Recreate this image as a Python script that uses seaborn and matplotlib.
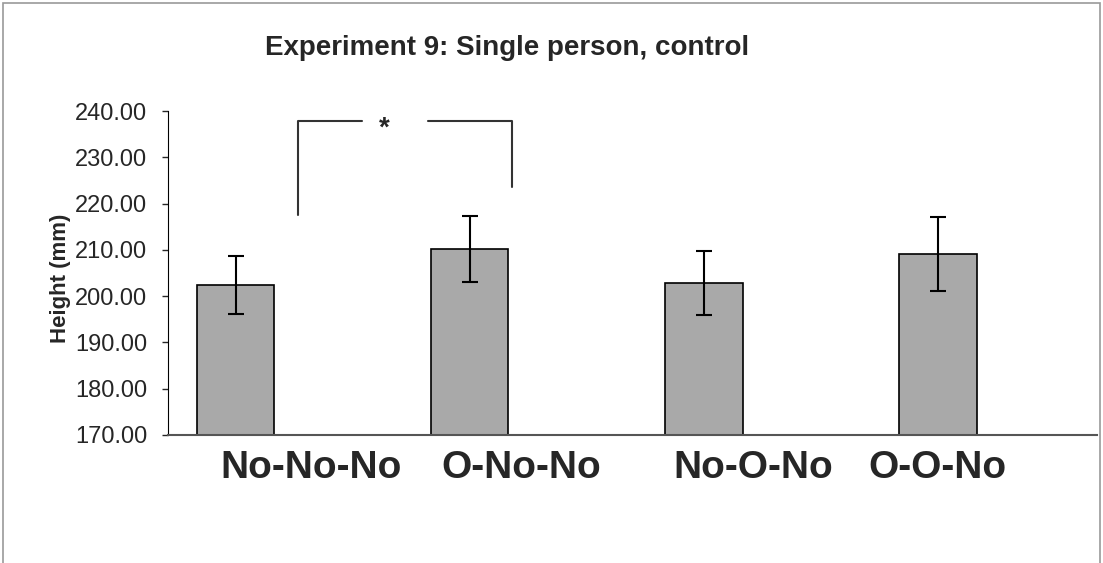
import numpy as np
import pandas as pd
import matplotlib
matplotlib.use("Agg")
import matplotlib.pyplot as plt
import matplotlib.transforms as mtransforms
from matplotlib.patches import Rectangle
import seaborn as sns

conditions = ["No-No-No", "O-No-No", "No-O-No", "O-O-No"]
heights = [202.4, 210.2, 202.8, 209.1]
errors = [6.2, 7.1, 6.9, 8.0]
# label centres sit a little to the right of the bars in the original
label_offsets = [0.32, 0.22, 0.21, 0.0]

sns.set_style("white")
plt.rcParams["font.family"] = ["Liberation Sans", "DejaVu Sans"]

df = pd.DataFrame({"condition": conditions, "height": heights})

fig = plt.figure(figsize=(11.03, 5.63), dpi=100)
ax = fig.add_axes([0.1523, 0.2274, 0.8423, 0.5754])

sns.barplot(data=df, x="condition", y="height", color="#a9a9a9",
            edgecolor="black", linewidth=1.2, width=0.33, errorbar=None,
            saturation=1, ax=ax)
ax.errorbar(np.arange(len(conditions)), heights, yerr=errors, fmt="none",
            ecolor="black", elinewidth=1.5, capsize=6, capthick=1.5)

ax.set_ylim(170, 240)
ax.set_xlim(-0.29, 3.68)
yticks = np.arange(170, 241, 10)
ax.set_yticks(yticks)
ax.set_yticklabels([f"{v:.2f}" for v in yticks], fontsize=17)
ax.tick_params(axis="y", direction="out", length=4, width=1, pad=11, left=True)
ax.set_xticks([])
ax.set_xlabel("")
ax.set_ylabel("")
for side in ["top", "right"]:
    ax.spines[side].set_visible(False)
ax.spines["left"].set_color("black")
ax.spines["bottom"].set_color("#555555")
ax.spines["bottom"].set_linewidth(1.5)

# category labels, well below the axis
label_tr = mtransforms.blended_transform_factory(ax.transData, fig.transFigure)
for i, (name, off) in enumerate(zip(conditions, label_offsets)):
    ax.text(i + off, 0.168, name, transform=label_tr,
            ha="center", va="center", fontsize=28, fontweight="bold")

# significance bracket
bx0, bx1 = 0.265, 1.18
ax.plot([bx0, bx0, 0.54], [217.5, 237.8, 237.8], color="#333333", lw=1.5,
        clip_on=False)
ax.plot([0.82, bx1, bx1], [237.8, 237.8, 223.6], color="#333333", lw=1.5,
        clip_on=False)
ax.text(0.635, 236.3, "*", ha="center", va="center", fontsize=20,
        fontweight="bold")

fig.text(0.46, 0.915, "Experiment 9: Single person, control", ha="center",
         va="center", fontsize=20, fontweight="bold")
fig.text(0.055, 0.506, "Height (mm)", rotation=90, ha="center", va="center",
         fontsize=16, fontweight="bold")

fig.patches.append(Rectangle((0.003, -0.01), 0.994, 1.004, transform=fig.transFigure,
                             fill=False, edgecolor="#999999", lw=1.2))

fig.savefig("out.png", dpi=100)
